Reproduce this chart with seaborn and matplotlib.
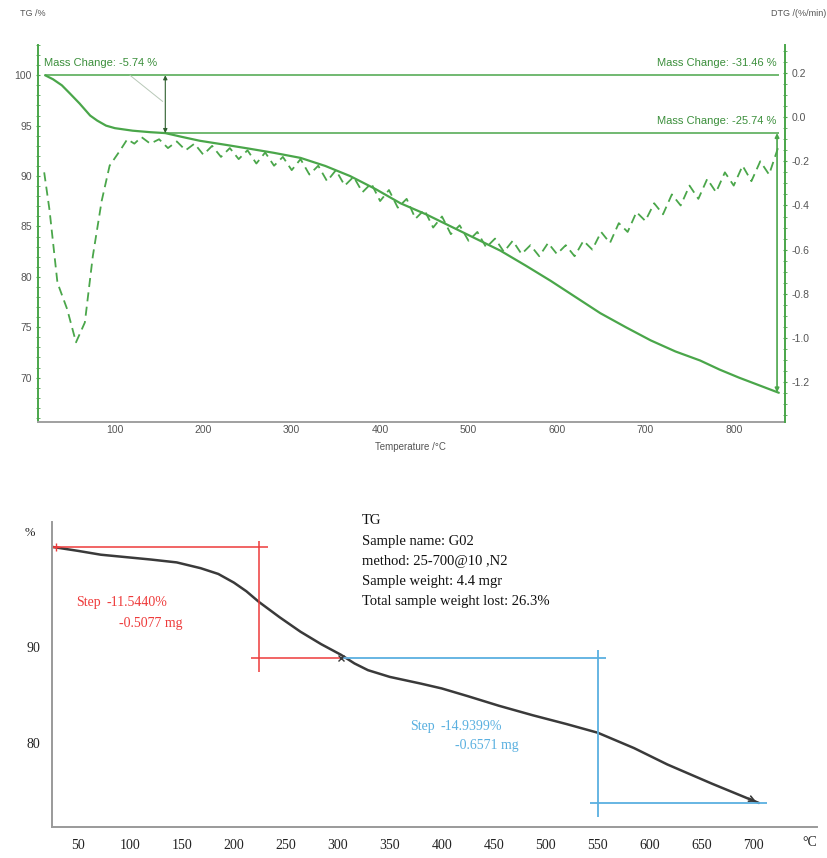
import matplotlib
matplotlib.use("Agg")
import matplotlib.pyplot as plt
from matplotlib.ticker import MultipleLocator, FixedLocator
import seaborn as sns
import pandas as pd

# ---- top panel: TG (solid) + DTG (dashed) ----
tg_temp = [21, 30, 40, 49, 60, 72, 80, 90, 100, 120, 140, 157, 175, 196, 225,
           253, 280, 310, 338, 366, 395, 423, 452, 480, 508, 536, 565, 593,
           621, 649, 678, 706, 734, 762, 784, 806, 830, 851]
tg_mass = [100.0, 99.6, 99.0, 98.2, 97.2, 96.0, 95.5, 95.0, 94.75, 94.5, 94.35,
           94.26, 93.9, 93.5, 93.1, 92.7, 92.3, 91.8, 91.0, 90.0, 88.7, 87.3,
           86.2, 85.0, 83.8, 82.6, 81.1, 79.6, 78.0, 76.4, 75.0, 73.7, 72.6,
           71.7, 70.8, 70.0, 69.2, 68.5]

dtg_temp = [20, 26, 35, 46, 56, 66, 75, 85, 94, 106, 114, 122,
            130, 140, 150, 160, 170, 180, 190, 200, 210, 220, 230, 240, 250,
            260, 270, 280, 290, 300, 310, 320, 330, 340, 350, 360, 370, 380,
            390, 400, 410, 420, 430, 440, 450, 460, 470, 480, 490, 500, 510,
            520, 530, 540, 550, 560, 570, 580, 590, 600, 610, 620, 630, 640,
            650, 660, 670, 680, 690, 700, 710, 720, 730, 740, 750, 760, 770,
            780, 790, 800, 810, 820, 830, 840, 850]
dtg_rate = [-0.25, -0.42, -0.75, -0.87, -1.02, -0.93, -0.63, -0.38, -0.22, -0.15, -0.10, -0.12,
            -0.09, -0.12, -0.10, -0.14, -0.11, -0.15, -0.12, -0.17, -0.13, -0.18, -0.14, -0.19, -0.15,
            -0.21, -0.16, -0.22, -0.18, -0.24, -0.19, -0.26, -0.22, -0.29, -0.24, -0.31, -0.27, -0.34,
            -0.30, -0.38, -0.33, -0.41, -0.37, -0.46, -0.42, -0.50, -0.45, -0.53, -0.49, -0.56, -0.52,
            -0.59, -0.55, -0.61, -0.56, -0.62, -0.58, -0.63, -0.57, -0.62, -0.58, -0.63, -0.56, -0.60,
            -0.52, -0.57, -0.48, -0.52, -0.43, -0.47, -0.39, -0.44, -0.35, -0.40, -0.31, -0.37, -0.28,
            -0.34, -0.25, -0.31, -0.22, -0.29, -0.20, -0.26, -0.14]

mass_change_temp = 157
mass_levels = [100.0, 94.26, 68.54]
mass_labels = ["Mass Change: -5.74 %", "Mass Change: -31.46 %", "Mass Change: -25.74 %"]

# ---- bottom panel: TG with steps ----
tg2_temp = [26, 50, 72, 96, 120, 145, 168, 185, 200, 212, 224, 244, 264, 284,
            303, 316, 329, 350, 380, 400, 425, 455, 488, 520, 550, 585, 617,
            660, 705]
tg2_mass = [100.4, 100.0, 99.6, 99.35, 99.1, 98.8, 98.2, 97.6, 96.7, 95.8, 94.7,
            93.1, 91.6, 90.3, 89.2, 88.3, 87.6, 86.9, 86.2, 85.7, 84.9, 83.9,
            82.9, 82.0, 81.1, 79.5, 77.8, 75.8, 73.8]
step_temps = [224, 550]
step_levels = [(100.4, 88.9), (88.9, 73.8)]
step_pct = ["-11.5440%", "-14.9399%"]
step_mg = ["-0.5077 mg", "-0.6571 mg"]
info_lines = ["TG", "Sample name: G02", "method: 25-700@10 ,N2",
              "Sample weight: 4.4 mgr", "Total sample weight lost: 26.3%"]
bottom_xticks = [50, 100, 150, 200, 250, 300, 350, 400, 450, 500, 550, 600, 650, 700]

green = "#4aa64a"
dgreen = "#3b8f3b"
red = "#ee3b3b"
blue = "#5ab0e0"

sns.set_style("white")
plt.rcParams["font.family"] = ["Liberation Sans", "DejaVu Sans"]

fig = plt.figure(figsize=(8.28, 8.58), dpi=100)
W, H = 828, 858

# ================= top =================
ax1 = fig.add_axes([38 / W, 1 - 422 / H, (785 - 38) / W, (422 - 45) / H])
ax2 = ax1.twinx()

sns.lineplot(x=tg_temp, y=tg_mass, ax=ax1, color=green, lw=1.6)
sns.lineplot(x=dtg_temp, y=dtg_rate, ax=ax2, color=green, lw=1.3,
             linestyle=(0, (5, 3)))

ax1.set_xlim(13, 858)
ax1.set_ylim(65.6, 103.0)
ax2.set_ylim(-1.381, 0.327)

ax1.hlines(mass_levels[0], tg_temp[0], tg_temp[-1], color=green, lw=1.1)
ax1.hlines(mass_levels[1], mass_change_temp, tg_temp[-1], color=green, lw=1.1)
ax1.annotate("", xy=(mass_change_temp, mass_levels[0]),
             xytext=(mass_change_temp, mass_levels[1]),
             arrowprops=dict(arrowstyle="<|-|>", color="#2f5f2f", lw=0.8,
                             mutation_scale=6, shrinkA=0, shrinkB=0))
ax1.plot([117, mass_change_temp - 3], [100.0, 97.4], color="#b8c8b8", lw=0.7)
ax1.annotate("", xy=(tg_temp[-1] - 2, mass_levels[1]),
             xytext=(tg_temp[-1] - 2, mass_levels[2]),
             arrowprops=dict(arrowstyle="<|-|>", color=green, lw=1.2,
                             mutation_scale=6, shrinkA=0, shrinkB=0))

ax1.text(20, 101.2, mass_labels[0], color=dgreen, fontsize=8, va="center")
ax1.text(848, 101.2, mass_labels[1], color=dgreen, fontsize=8, va="center", ha="right")
ax1.text(848, 95.5, mass_labels[2], color=dgreen, fontsize=8, va="center", ha="right")

ax1.xaxis.set_major_locator(FixedLocator([100, 200, 300, 400, 500, 600, 700, 800]))
ax1.xaxis.set_minor_locator(MultipleLocator(20))
ax1.yaxis.set_major_locator(FixedLocator([70, 75, 80, 85, 90, 95, 100]))
ax1.yaxis.set_minor_locator(MultipleLocator(1))
ax2.yaxis.set_major_locator(FixedLocator([-1.2, -1.0, -0.8, -0.6, -0.4, -0.2, 0.0, 0.2]))
ax2.yaxis.set_minor_locator(MultipleLocator(0.05))
ax2.set_yticklabels(["-1.2", "-1.0", "-0.8", "-0.6", "-0.4", "-0.2", "0.0", "0.2"])

for a in (ax1, ax2):
    a.spines["top"].set_visible(False)
ax1.spines["left"].set_color(green)
ax1.spines["left"].set_linewidth(1.4)
ax2.spines["right"].set_color(green)
ax2.spines["right"].set_linewidth(1.4)
ax2.spines["left"].set_visible(False)
ax2.spines["bottom"].set_visible(False)
ax1.spines["right"].set_visible(False)
ax1.spines["bottom"].set_color("#a0a0a0")
ax1.spines["bottom"].set_linewidth(1.4)

ax1.tick_params(axis="x", which="both", direction="in", colors="#888888",
                labelsize=7.5, labelcolor="#555555", length=3, pad=2)
ax1.tick_params(axis="x", which="minor", length=2)
ax1.tick_params(axis="y", which="both", direction="inout", colors=green,
                labelsize=7.5, labelcolor="#555555", length=3, pad=3)
ax2.tick_params(axis="y", which="both", direction="inout", colors=green,
                labelsize=7.5, labelcolor="#555555", length=3, pad=3)
ax1.set_xlabel("")
ax1.set_ylabel("")
ax2.set_ylabel("")

fig.text(20 / W, 1 - 13 / H, "TG /%", fontsize=6.5, color="#555555", va="center")
fig.text(826 / W, 1 - 13 / H, "DTG /(%/min)", fontsize=6.5, color="#555555",
         va="center", ha="right")
fig.text(410 / W, 1 - 447 / H, "Temperature /\u00b0C", fontsize=7, color="#555555",
         va="center", ha="center")

# ================= bottom =================
serif = ["Liberation Serif", "DejaVu Serif"]
ax3 = fig.add_axes([52 / W, 1 - 827 / H, (817 - 52) / W, (827 - 522) / H])
sns.lineplot(x=tg2_temp, y=tg2_mass, ax=ax3, color="#3a3a3a", lw=1.8)
ax3.set_xlim(25, 761)
ax3.set_ylim(71.3, 103.0)

# step 1 (red)
t1 = step_temps[0]
hi1, lo1 = step_levels[0]
ax3.hlines(hi1, tg2_temp[0] - 2, t1 + 9, color=red, lw=1.1)
ax3.vlines(t1, lo1 - 1.5, hi1 + 0.6, color=red, lw=1.1)
ax3.hlines(lo1, t1 - 8, 310, color=red, lw=1.1)
ax3.plot([tg2_temp[0] + 3], [hi1], marker="+", color=red, ms=6)
ax3.text(48, 94.6, "Step", color=red, fontsize=10, family=serif, va="center")
ax3.text(77, 94.6, step_pct[0], color=red, fontsize=10, family=serif, va="center")
ax3.text(89, 92.5, step_mg[0], color=red, fontsize=10, family=serif, va="center")

# step 2 (blue)
t2 = step_temps[1]
hi2, lo2 = step_levels[1]
ax3.hlines(hi2, 303, t2 + 8, color=blue, lw=1.3)
ax3.vlines(t2, lo2 - 1.5, hi2 + 0.8, color=blue, lw=1.3)
ax3.hlines(lo2, t2 - 7, 713, color=blue, lw=1.3)
ax3.plot([303], [hi2], marker="x", color="#3a3a3a", ms=4)
ax3.annotate("", xy=(tg2_temp[-1], tg2_mass[-1]), xytext=(tg2_temp[-1] - 12, tg2_mass[-1] + 0.6),
             arrowprops=dict(arrowstyle="->", color="#3a3a3a", lw=1.2))
ax3.text(370, 81.7, "Step", color=blue, fontsize=10, family=serif, va="center")
ax3.text(399, 81.7, step_pct[1], color=blue, fontsize=10, family=serif, va="center")
ax3.text(413, 79.8, step_mg[1], color=blue, fontsize=10, family=serif, va="center")

for i, line in enumerate(info_lines):
    fig.text(362 / W, 1 - (521 + 20 * i) / H, line, fontsize=10.5, family=serif,
             color="#111111", va="center")

ax3.xaxis.set_major_locator(FixedLocator(bottom_xticks))
ax3.xaxis.set_minor_locator(MultipleLocator(10))
ax3.yaxis.set_major_locator(FixedLocator([80, 90]))
ax3.yaxis.set_minor_locator(MultipleLocator(2))
ax3.spines["top"].set_visible(False)
ax3.spines["right"].set_visible(False)
for s in ("left", "bottom"):
    ax3.spines[s].set_color("#9a9a9a")
    ax3.spines[s].set_linewidth(1.4)
ax3.tick_params(axis="both", which="both", direction="out", colors="#666666",
                labelcolor="#222222", labelsize=10, length=5, width=1)
ax3.tick_params(axis="both", which="minor", length=3)
for lab in ax3.get_xticklabels() + ax3.get_yticklabels():
    lab.set_family(serif)
ax3.set_xlabel("")
ax3.set_ylabel("")
fig.text(810 / W, 1 - 843 / H, "\u00b0C", fontsize=10, family=serif, color="#222222",
         va="center", ha="center")
fig.text(30 / W, 1 - 533 / H, "%", fontsize=9, family=serif, color="#222222",
         va="center", ha="center")

fig.savefig("out.png", dpi=100)
